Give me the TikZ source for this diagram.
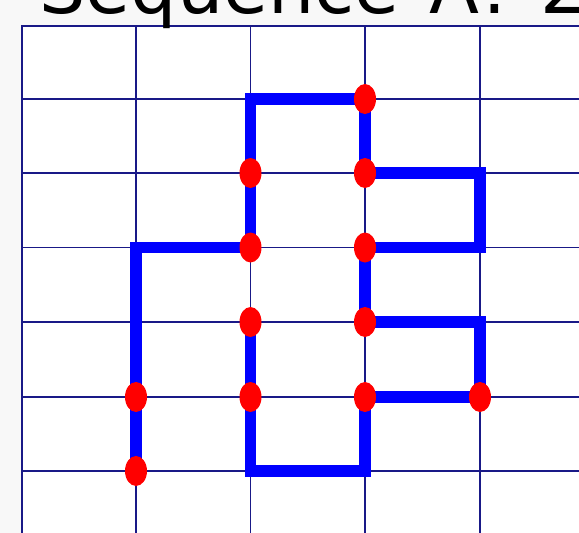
\documentclass[tikz,border=0pt]{standalone}
\usepackage{fontspec}
\setmainfont{DejaVu Sans}
\usetikzlibrary{shapes.geometric}
\definecolor{gridnavy}{RGB}{25,25,135}
\definecolor{pagegray}{RGB}{248,248,248}

\begin{document}
\begin{tikzpicture}[
  x=1pt, y=-1pt,
  gridline/.style={draw=gridnavy, line width=1.6pt},
  walk/.style={draw=blue, line width=11.5pt, line join=miter},
  site/.style={ellipse, fill=red, minimum width=22pt, minimum height=30pt,
              inner sep=0pt},
  title/.style={font=\fontsize{73}{85}\selectfont, inner sep=0pt,
              anchor=base west},
]
\useasboundingbox (0,0) rectangle (579,533);
\clip (0,0) rectangle (579,533);
\fill[pagegray] (0,0) rectangle (579,533);
\fill[white] (22,26) rectangle (579,533);

% lattice
\draw[gridline] (22,533) -- (22,26) -- (579,26);
\draw[gridline] (136,26) -- (136,533);
\draw[gridline] (250.5,26) -- (250.5,533);
\draw[gridline] (365,26) -- (365,533);
\draw[gridline] (480,26) -- (480,533);
\draw[gridline] (22,99) -- (579,99);
\draw[gridline] (22,173) -- (579,173);
\draw[gridline] (22,247.5) -- (579,247.5);
\draw[gridline] (22,322) -- (579,322);
\draw[gridline] (22,397) -- (579,397);
\draw[gridline] (22,471) -- (579,471);

% occupied sites, in walk order
\coordinate (p1) at (136,471);
\coordinate (p2) at (136,397);
\coordinate (p3) at (250.5,247.5);
\coordinate (p4) at (250.5,173);
\coordinate (p5) at (365,99);
\coordinate (p6) at (365,173);
\coordinate (p7) at (365,247.5);
\coordinate (p8) at (365,322);
\coordinate (p9) at (480,397);
\coordinate (p10) at (365,397);
\coordinate (p11) at (250.5,397);
\coordinate (p12) at (250.5,322);

% bends
\coordinate (k1) at (136,247.5);
\coordinate (k2) at (250.5,99);
\coordinate (k3) at (480,173);
\coordinate (k4) at (480,247.5);
\coordinate (k5) at (480,322);
\coordinate (k6) at (365,471);
\coordinate (k7) at (250.5,471);

\draw[walk] (p1) -- (p2) -- (k1) -- (p3) -- (p4) -- (k2) -- (p5) -- (p6)
  -- (k3) -- (k4) -- (p7) -- (p8) -- (k5) -- (p9) -- (p10) -- (k6)
  -- (k7) -- (p11) -- (p12);

\node[site] (s1) at (p1) {};
\node[site] (s2) at (p2) {};
\node[site] (s3) at (p3) {};
\node[site] (s4) at (p4) {};
\node[site] (s5) at (p5) {};
\node[site] (s6) at (p6) {};
\node[site] (s7) at (p7) {};
\node[site] (s8) at (p8) {};
\node[site] (s9) at (p9) {};
\node[site] (s10) at (p10) {};
\node[site] (s11) at (p11) {};
\node[site] (s12) at (p12) {};

\node[title] (head) at (39.2,13.3)
  {Sequence\hspace{7pt} A\hspace{3pt}:\hspace{10pt} 2};

\end{tikzpicture}
\end{document}
